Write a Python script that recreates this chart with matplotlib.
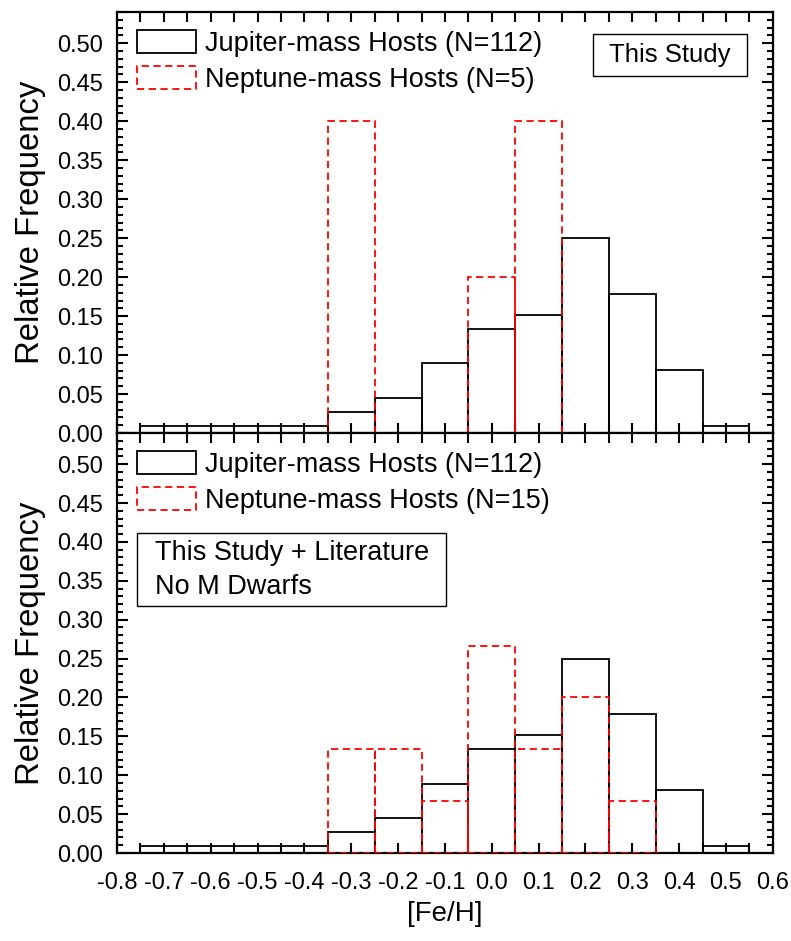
import matplotlib.pyplot as plt
from matplotlib.patches import Patch, Rectangle
from matplotlib.ticker import MultipleLocator

plt.rcParams['font.family'] = ['Liberation Sans', 'DejaVu Sans']
plt.rcParams['axes.unicode_minus'] = False

# bin centres for [Fe/H]
feh_bins = [-0.7, -0.6, -0.5, -0.4, -0.3, -0.2, -0.1, 0.0, 0.1, 0.2, 0.3, 0.4, 0.5]

# Jupiter-mass hosts (N=112), same in both panels
jupiter_freq = [0.0089, 0.0089, 0.0089, 0.0089, 0.0268, 0.0446, 0.0893,
                0.1339, 0.1518, 0.25, 0.1786, 0.0804, 0.0089]

# Neptune-mass hosts, this study only (N=5)
neptune_study = [0.0, 0.0, 0.0, 0.0, 0.4, 0.0, 0.0, 0.2, 0.4, 0.0, 0.0, 0.0, 0.0]

# Neptune-mass hosts, this study + literature, no M dwarfs (N=15)
neptune_lit = [0.0, 0.0, 0.0, 0.0, 0.1333, 0.1333, 0.0667, 0.2667, 0.1333,
               0.2, 0.0667, 0.0, 0.0]

legend_labels_top = ['Jupiter-mass Hosts (N=112)', 'Neptune-mass Hosts (N=5)']
legend_labels_bot = ['Jupiter-mass Hosts (N=112)', 'Neptune-mass Hosts (N=15)']

fig = plt.figure(figsize=(7.91, 9.41), dpi=100)
ax1 = fig.add_axes([0.148, 0.5398, 0.829, 0.4474])
ax2 = fig.add_axes([0.148, 0.0935, 0.829, 0.4463])

dash = (0, (4, 2.5))


def draw_panel(ax, neptune, labels):
    # skip empty bins so no flat outlines get drawn on the axis
    jx = [x for x, v in zip(feh_bins, jupiter_freq) if v > 0]
    jv = [v for v in jupiter_freq if v > 0]
    nx = [x for x, v in zip(feh_bins, neptune) if v > 0]
    nv = [v for v in neptune if v > 0]
    ax.bar(jx, jv, width=0.1, fill=False, edgecolor='black', linewidth=1.3, zorder=2)
    ax.bar(nx, nv, width=0.1, fill=False, edgecolor='red', linewidth=1.3,
           linestyle=dash, zorder=3)

    ax.set_xlim(-0.8, 0.6)
    ax.set_ylim(0, 0.54)
    ax.xaxis.set_major_locator(MultipleLocator(0.1))
    ax.xaxis.set_minor_locator(MultipleLocator(0.05))
    ax.yaxis.set_minor_locator(MultipleLocator(0.01))
    ax.set_yticks([0.0, 0.05, 0.1, 0.15, 0.2, 0.25, 0.3, 0.35, 0.4, 0.45, 0.5])
    ax.set_yticklabels(['0.00', '0.05', '0.10', '0.15', '0.20', '0.25', '0.30',
                        '0.35', '0.40', '0.45', '0.50'])
    ax.tick_params(which='both', direction='in', top=True, right=True,
                   width=1.5, labelsize=17)
    ax.tick_params(axis='y', which='major', length=8, pad=10)
    ax.tick_params(axis='y', which='minor', length=4.5)
    ax.tick_params(axis='x', which='both', length=7, pad=14)
    for s in ax.spines.values():
        s.set_linewidth(1.6)
    ax.set_ylabel('Relative Frequency', fontsize=23.7, labelpad=8)

    handles = [Patch(facecolor='none', edgecolor='black', linewidth=1.3),
               Patch(facecolor='none', edgecolor='red', linewidth=1.3, linestyle=dash)]
    ax.legend(handles, labels, loc='upper left', bbox_to_anchor=(-0.005, 1.013),
              frameon=False, fontsize=19.5, handlelength=2.2, handleheight=0.95,
              handletextpad=0.3, labelspacing=0.35, borderpad=0.35)


def text_box(ax, x0, y0, x1, y1):
    ax.add_patch(Rectangle((x0, y0), x1 - x0, y1 - y0, transform=ax.transAxes,
                           facecolor='white', edgecolor='black', linewidth=1.0,
                           zorder=4))


draw_panel(ax1, neptune_study, legend_labels_top)
draw_panel(ax2, neptune_lit, legend_labels_bot)

ax1.tick_params(axis='x', labelbottom=False)
ax2.set_xlabel('[Fe/H]', fontsize=20, labelpad=5)

text_box(ax1, 0.7256, 0.848, 0.9604, 0.948)
ax1.text(0.843, 0.898, 'This Study', transform=ax1.transAxes, fontsize=18.5,
         ha='center', va='center', zorder=5)

text_box(ax2, 0.0305, 0.588, 0.5015, 0.762)
ax2.text(0.058, 0.714, 'This Study + Literature', transform=ax2.transAxes,
         fontsize=19.5, ha='left', va='center', zorder=5)
ax2.text(0.058, 0.633, 'No M Dwarfs', transform=ax2.transAxes,
         fontsize=19.5, ha='left', va='center', zorder=5)

fig.savefig('out.png', dpi=100)
